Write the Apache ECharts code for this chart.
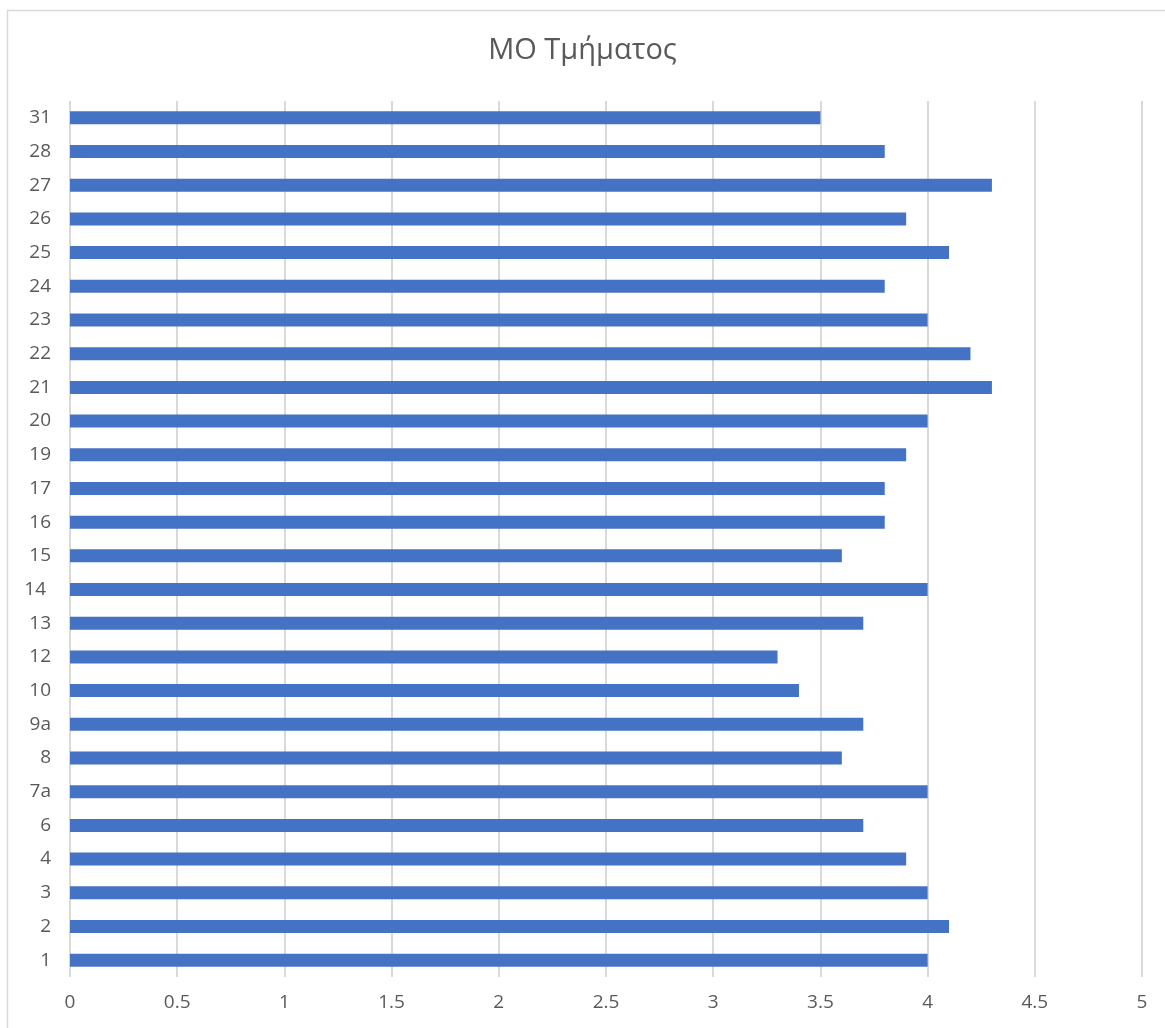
<!DOCTYPE html>
<html><head><meta charset="utf-8">
<script src="https://cdn.jsdelivr.net/npm/echarts@6/dist/echarts.min.js"></script>
<style>html,body{margin:0;padding:0;background:#fff}#c{width:1165px;height:1028px}</style>
</head><body><div id="c"></div>
<script>
const categories = ['1','2','3','4','6','7a','8','9a','10','12','13','14 ','15','16','17','19','20','21','22','23','24','25','26','27','28','31'];
const values = [4.0,4.1,4.0,3.9,3.7,4.0,3.6,3.7,3.4,3.3,3.7,4.0,3.6,3.8,3.8,3.9,4.0,4.3,4.2,4.0,3.8,4.1,3.9,4.3,3.8,3.5];
const xTicks = [0,0.5,1,1.5,2,2.5,3,3.5,4,4.5,5];
const chart = echarts.init(document.getElementById('c'), null, {renderer:'canvas'});
chart.setOption({
  animation:false,
  backgroundColor:'#fff',
  graphic:[{type:'rect',shape:{x:7.5,y:10.5,width:1170,height:1030},style:{fill:'none',stroke:'#d9d9d9',lineWidth:1.5},silent:true}],
  title:{text:'ΜΟ Τμήματος',left:'center',top:31,textStyle:{fontFamily:'Open Sans',fontWeight:'normal',fontSize:29,color:'#595959'}},
  grid:{left:70,right:23,top:101,bottom:51,containLabel:false},
  xAxis:{type:'value',min:0,max:5,interval:0.5,
    axisLine:{show:false},axisTick:{show:false},
    splitLine:{lineStyle:{color:'#d9d9d9',width:2}},
    axisLabel:{margin:16,fontFamily:'Open Sans',fontSize:19,color:'#595959',formatter:v=>String(xTicks[Math.round(v*2)])}},
  yAxis:{type:'category',data:categories,
    axisLine:{show:false},axisTick:{show:false},
    axisLabel:{margin:19,fontFamily:'Open Sans',fontSize:19,color:'#595959'}},
  series:[{type:'bar',data:values,barWidth:13,itemStyle:{color:'#4472c4'}}]
});
</script></body></html>
